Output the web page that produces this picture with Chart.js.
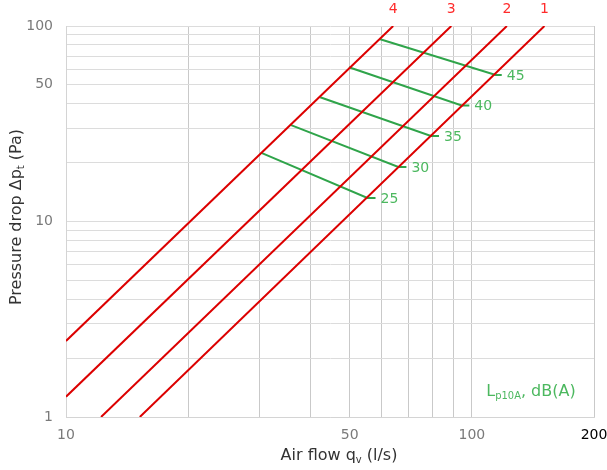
<!DOCTYPE html>
<html lang="en">
  <head>
    <meta charset="UTF-8" />
    <title>Pressure drop vs air flow</title>
    <script src="https://cdn.jsdelivr.net/npm/chart.js@4.4.0/dist/chart.umd.min.js"></script>
    <style>
      body {
        margin: 0;
        background: #fff;
      }
      #chart {
        display: block;
      }
    </style>
  </head>
  <body>
    <canvas id="chart" width="607" height="470"></canvas>

    <script>
      // damper curves 1..4 (pressure drop vs flow)
      const curveIds = ['1', '2', '3', '4'];
      const curveFlow = [[15.2, 151], [12.2, 122], [10, 89], [10, 64]];
      const curvePressure = [[1, 100], [1, 100], [1.27, 100], [2.45, 100]];

      // sound level lines Lp10A (start on curve 4, end on curve 1 + short tick)
      const noiseLevels = ['25', '30', '35', '40', '45'];
      const noiseFlow = [
        [30.2, 55.3, 57.9],
        [35.6, 65.9, 69.0],
        [42.3, 79.3, 83.0],
        [49.8, 94.4, 98.6],
        [59.2, 114.5, 118.5],
      ];
      const noisePressure = [
        [22.5, 13.2, 13.2],
        [31.3, 19.0, 19.0],
        [43.2, 27.4, 27.4],
        [61.5, 39.2, 39.2],
        [85.8, 56.1, 56.1],
      ];

      const xTicks = [10, 20, 30, 40, 50, 60, 70, 80, 90, 100, 200];
      const xLabels = [10, 50, 100, 200];
      const yTicks = [1, 2, 3, 4, 5, 6, 7, 8, 9, 10, 20, 30, 40, 50, 60, 70, 80, 90, 100];
      const yLabels = [1, 10, 50, 100];

      const RED = '#dc0000';
      const GREEN = '#2fa44a';
      const GREEN_TEXT = '#4cb85f';
      const FONT = '"DejaVu Sans", sans-serif';

      const datasets = [];
      curveIds.forEach((id, i) => {
        datasets.push({
          label: 'Curve ' + id,
          data: curveFlow[i].map((x, j) => ({ x: x, y: curvePressure[i][j] })),
          borderColor: RED,
          borderWidth: 2,
          showLine: true,
          pointRadius: 0,
        });
      });
      noiseLevels.forEach((lv, i) => {
        datasets.push({
          label: 'Lp10A ' + lv,
          data: noiseFlow[i].map((x, j) => ({ x: x, y: noisePressure[i][j] })),
          borderColor: GREEN,
          borderWidth: 2,
          showLine: true,
          pointRadius: 0,
        });
      });

      // text with subscripts: parts = [[text, isSub], ...]
      function drawParts(ctx, parts, x, y, size, color) {
        let total = 0;
        parts.forEach((p) => {
          ctx.font = (p[1] ? size * 0.62 : size) + 'px ' + FONT;
          total += ctx.measureText(p[0]).width;
        });
        let cx = x - total / 2;
        ctx.fillStyle = color;
        ctx.textAlign = 'left';
        ctx.textBaseline = 'middle';
        parts.forEach((p) => {
          ctx.font = (p[1] ? size * 0.62 : size) + 'px ' + FONT;
          ctx.fillText(p[0], cx, p[1] ? y + size * 0.3 : y);
          cx += ctx.measureText(p[0]).width;
        });
      }

      const labelsPlugin = {
        id: 'labels',
        afterDraw(chart) {
          const ctx = chart.ctx;
          const xs = chart.scales.x;
          const ys = chart.scales.y;
          const area = chart.chartArea;
          ctx.save();

          // curve numbers above the top end of each red line
          ctx.font = '14px ' + FONT;
          ctx.fillStyle = '#ff2b2b';
          ctx.textAlign = 'center';
          ctx.textBaseline = 'middle';
          curveIds.forEach((id, i) => {
            const n = curveFlow[i].length - 1;
            ctx.fillText(id, xs.getPixelForValue(curveFlow[i][n]), area.top - 17);
          });

          // sound level values at the end of each green line
          ctx.font = '14px ' + FONT;
          ctx.fillStyle = GREEN_TEXT;
          ctx.textAlign = 'left';
          noiseLevels.forEach((lv, i) => {
            const n = noiseFlow[i].length - 1;
            ctx.fillText(
              lv,
              xs.getPixelForValue(noiseFlow[i][n]) + 5,
              ys.getPixelForValue(noisePressure[i][n]) + 1
            );
          });

          drawParts(ctx, [['L', false], ['p10A', true], [', dB(A)', false]], 531, 392, 16, GREEN_TEXT);

          // axis titles
          drawParts(ctx, [['Air flow q', false], ['v', true], [' (l/s)', false]], 339, 456, 16, '#333');
          ctx.translate(17, 217);
          ctx.rotate(-Math.PI / 2);
          drawParts(ctx, [['Pressure drop Δp', false], ['t', true], [' (Pa)', false]], 0, 0, 16, '#333');
          ctx.restore();
        },
      };

      new Chart(document.getElementById('chart'), {
        type: 'scatter',
        data: { datasets: datasets },
        options: {
          responsive: false,
          animation: false,
          layout: { padding: { top: 26, right: 13, left: 0, bottom: 0 } },
          plugins: { legend: { display: false }, tooltip: { enabled: false } },
          scales: {
            x: {
              type: 'logarithmic',
              min: 10,
              max: 200,
              afterBuildTicks: (s) => {
                s.ticks = xTicks.map((v) => ({ value: v }));
              },
              afterFit: (s) => {
                s.height = 53;
                s.paddingLeft = 0;
                s.paddingRight = 0;
              },
              ticks: {
                autoSkip: false,
                maxRotation: 0,
                padding: 10,
                font: { family: FONT, size: 14 },
                color: (c) => (c.tick.value === 200 ? '#000' : '#7a7a7a'),
                callback: (v) => (xLabels.includes(v) ? String(v) : ''),
              },
              grid: { color: '#c9c9c9', drawTicks: false },
              border: { color: '#d4d4d4' },
            },
            y: {
              type: 'logarithmic',
              min: 1,
              max: 100,
              afterBuildTicks: (s) => {
                s.ticks = yTicks.map((v) => ({ value: v }));
              },
              afterFit: (s) => {
                s.width = 66;
                s.paddingTop = 0;
                s.paddingBottom = 0;
              },
              ticks: {
                autoSkip: false,
                padding: 13,
                font: { family: FONT, size: 14 },
                color: '#7a7a7a',
                callback: (v) => (yLabels.includes(v) ? String(v) : ''),
              },
              grid: { color: '#dcdcdc', drawTicks: false },
              border: { color: '#d4d4d4' },
            },
          },
        },
        plugins: [labelsPlugin],
      });
    </script>
  </body>
</html>
